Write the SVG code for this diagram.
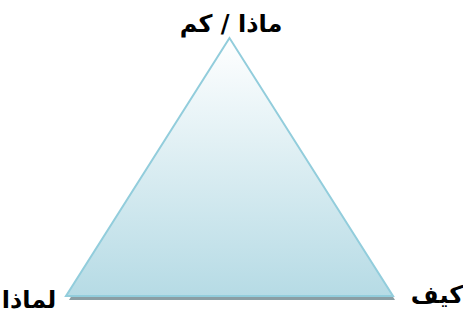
<svg xmlns="http://www.w3.org/2000/svg" width="463" height="322" viewBox="0 0 463 322">
<defs>
<linearGradient id="g" x1="0" y1="0" x2="0" y2="1">
<stop offset="0" stop-color="#ffffff"/>
<stop offset="1" stop-color="#b6dbe5"/>
</linearGradient>
<filter id="sh" x="-10%" y="-10%" width="120%" height="130%">
<feGaussianBlur stdDeviation="0.6"/>
</filter>
<style>
.lbl{font-family:"DejaVu Sans","Noto Sans",sans-serif;font-size:24px;font-weight:bold;fill:#000;}
</style>
</defs>
<g id="triangle">
<polygon points="229.5,41 69,300 395,300" fill="#8a9ea4" filter="url(#sh)"/>
<polygon points="229.5,38 66,296 393,296" fill="url(#g)" stroke="#92cddc" stroke-width="2" stroke-linejoin="miter"/>
</g>
<g id="label-top"><text class="lbl" x="231" y="32" text-anchor="middle" direction="rtl">ماذا / كم</text></g>
<g id="label-left"><text class="lbl" x="29" y="308" text-anchor="middle" direction="rtl">لماذا</text></g>
<g id="label-right"><text class="lbl" x="437" y="303" text-anchor="middle" direction="rtl">كيف</text></g>
</svg>
